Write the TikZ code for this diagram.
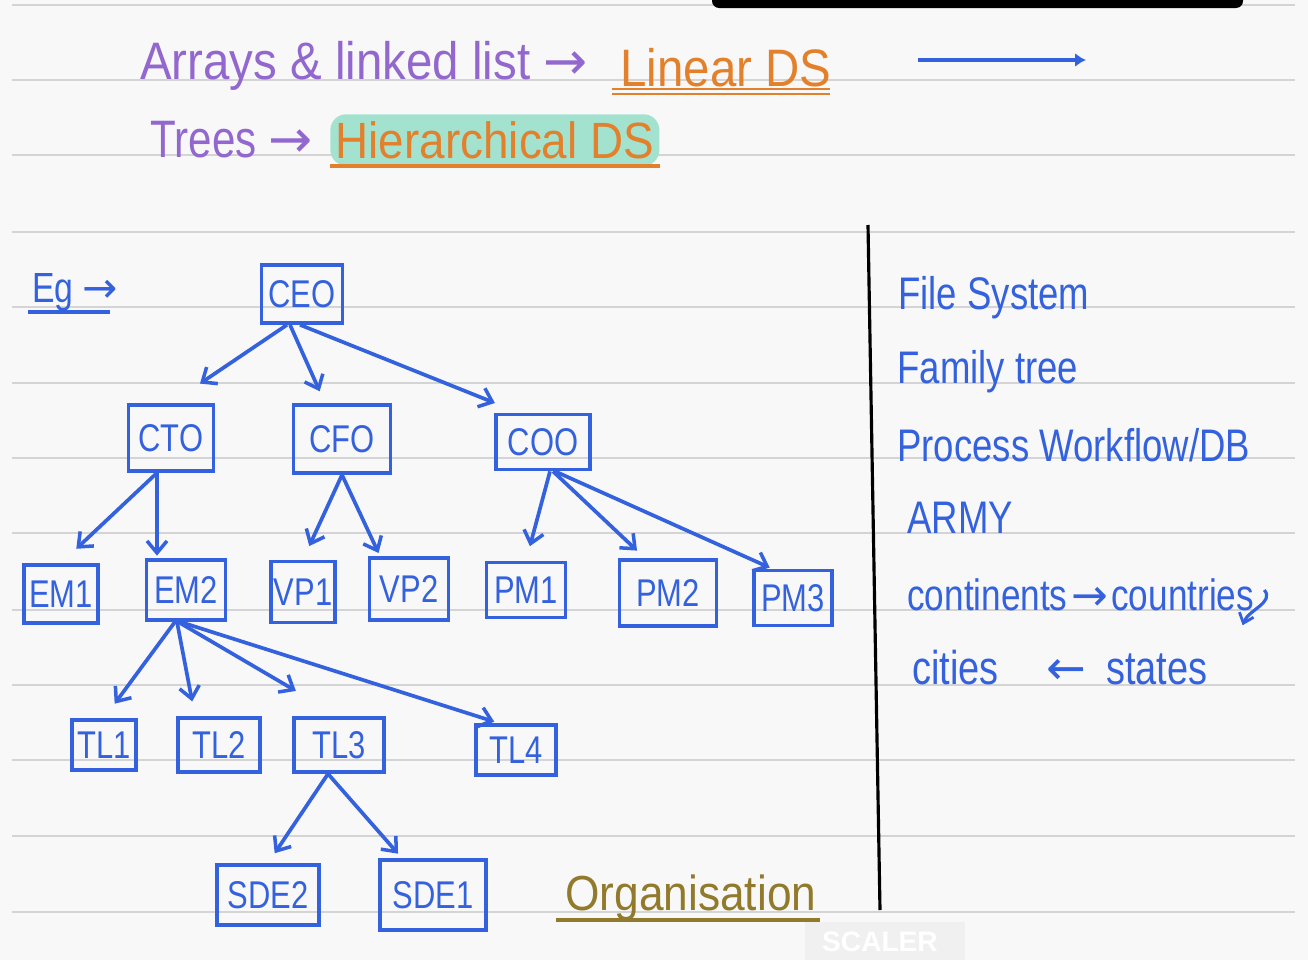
\documentclass[tikz,border=0pt]{standalone}
\usepackage{fontspec}
\setmainfont{Liberation Sans}
\newfontfamily\hand[FakeStretch=0.8]{Liberation Sans}
\newfontfamily\handwide[FakeStretch=0.9]{Liberation Sans}
\newfontfamily\symb{DejaVu Sans}
\usetikzlibrary{arrows.meta}

\definecolor{paper}{RGB}{248,248,248}
\definecolor{rule}{RGB}{212,212,212}
\definecolor{inkblue}{RGB}{52,98,222}
\definecolor{inkpurple}{RGB}{146,104,206}
\definecolor{inkorange}{RGB}{226,128,44}
\definecolor{inkolive}{RGB}{146,122,44}
\definecolor{hilite}{RGB}{164,226,208}

\begin{document}
\begin{tikzpicture}[
    x=0.02cm, y=-0.02cm,
    emp/.style={rectangle, draw=inkblue, line width=2.1pt, text=inkblue, inner sep=1pt, font=\hand\fontsize{22}{24}\selectfont},
    arr/.style={draw=inkblue, line width=2.1pt, -{Straight Barb[length=2.4mm, width=4mm, line width=2pt]}},
    title/.style={anchor=west, inner sep=0pt, font=\handwide\fontsize{30}{32}\selectfont},
    note/.style={anchor=west, inner sep=0pt, text=inkblue, font=\hand\fontsize{26}{28}\selectfont}
]

% Paper and ruled lines
\fill[paper] (0,0) rectangle (1308,960);
\useasboundingbox (0,0) rectangle (1308,960);
\foreach \y in {5,80,155,232,307,383,458,533,610,685,760,836,912}
  \draw[rule, line width=1.1pt] (12,\y) -- (1295,\y);

% Pen toolbar
\fill[black, rounded corners=4pt] (712,-10) rectangle (1243,8);

% Heading lines
\node[title, text=inkpurple] (arrays) at (140,66) {Arrays \& linked list {\symb →}};
\node[title, text=inkorange] (linear) at (620,68) {Linear DS};
\draw[inkorange, line width=1.3pt] (612,89) -- (830,89);
\draw[inkorange, line width=1.3pt] (612,94) -- (830,94);
\draw[inkblue, line width=2.6pt, -{Latex[length=2.2mm, width=2.8mm]}] (918,60) -- (1086,60);

\node[title, text=inkpurple, font=\hand\fontsize{30}{32}\selectfont] (trees) at (150,140) {Trees {\symb →}};
\node[title, text=inkorange, fill=hilite, rounded corners=9pt, inner xsep=3pt, inner ysep=4pt, font=\handwide\fontsize{29}{31}\selectfont] (hier) at (330,140) {Hierarchical DS};
\draw[inkorange, line width=2.2pt] (hier.south west) -- (hier.south east);

% Example label
\node[anchor=west, inner sep=0pt, text=inkblue, font=\hand\fontsize{24}{26}\selectfont] (eg) at (32,292) {Eg {\symb →}};
\draw[inkblue, line width=2pt] (28,312) -- (110,312);

% Organisation tree - top levels
\node[emp, minimum width=1.62cm, minimum height=1.16cm] (ceo) at (302,294) {CEO};
\node[emp, minimum width=1.70cm, minimum height=1.32cm] (cto) at (171,438) {CTO};
\node[emp, minimum width=1.94cm, minimum height=1.36cm] (cfo) at (342,439) {CFO};
\node[emp, minimum width=1.88cm, minimum height=1.10cm] (coo) at (543,442) {COO};

% Managers and VPs
\node[emp, minimum width=1.48cm, minimum height=1.16cm] (em1) at (61,594) {EM1};
\node[emp, minimum width=1.58cm, minimum height=1.20cm] (em2) at (186,590) {EM2};
\node[emp, minimum width=1.28cm, minimum height=1.22cm] (vp1) at (303,592) {VP1};
\node[emp, minimum width=1.58cm, minimum height=1.24cm] (vp2) at (409,589) {VP2};
\node[emp, minimum width=1.58cm, minimum height=1.10cm] (pm1) at (526,590) {PM1};
\node[emp, minimum width=1.94cm, minimum height=1.32cm] (pm2) at (668,593) {PM2};
\node[emp, minimum width=1.56cm, minimum height=1.10cm] (pm3) at (793,598) {PM3};

% Team leads
\node[emp, minimum width=1.28cm, minimum height=1.00cm] (tl1) at (104,745) {TL1};
\node[emp, minimum width=1.64cm, minimum height=1.08cm] (tl2) at (219,745) {TL2};
\node[emp, minimum width=1.80cm, minimum height=1.08cm] (tl3) at (339,745) {TL3};
\node[emp, minimum width=1.60cm, minimum height=1.00cm] (tl4) at (516,750) {TL4};

% Engineers
\node[emp, minimum width=2.04cm, minimum height=1.20cm] (sde2) at (268,895) {SDE2};
\node[emp, minimum width=2.12cm, minimum height=1.40cm] (sde1) at (433,895) {SDE1};

% Reporting lines
\draw[arr, shorten >=0.7cm] ([xshift=-0.3cm]ceo.south) -- (cto.north);
\draw[arr, shorten >=0.26cm] ([xshift=-0.24cm]ceo.south) -- ([xshift=-0.34cm]cfo.north);
\draw[arr, shorten >=0.52cm] ([xshift=-0.04cm]ceo.south) -- ([xshift=-0.48cm]coo.north);

\draw[arr, shorten >=0.42cm] ([xshift=-0.28cm]cto.south) -- (em1.north);
\draw[arr, shorten >=0.05cm] ([xshift=-0.28cm]cto.south) -- ([xshift=-0.58cm]em2.north);
\draw[arr, shorten >=0.3cm] (cfo.south) -- (vp1.north);
\draw[arr, shorten >=0.07cm] (cfo.south) -- ([xshift=-0.58cm]vp2.north);
\draw[arr, shorten >=0.3cm] ([xshift=0.14cm]coo.south) -- (pm1.north);
\draw[arr, shorten >=0.22cm] ([xshift=0.2cm]coo.south) -- ([xshift=-0.46cm]pm2.north);
\draw[arr, shorten >=0.05cm] ([xshift=0.24cm]coo.south) -- ([xshift=-0.42cm]pm3.north);

\draw[arr, shorten >=0.36cm] ([xshift=-0.22cm]em2.south) -- (tl1.north);
\draw[arr, shorten >=0.3cm] ([xshift=-0.18cm]em2.south) -- ([xshift=-0.48cm]tl2.north);
\draw[arr, shorten >=1cm] ([xshift=-0.16cm]em2.south) -- (tl3.north);
\draw[arr, shorten >=0.1cm] ([xshift=-0.12cm]em2.south) -- ([xshift=-0.34cm]tl4.north);

\draw[arr, shorten >=0.24cm] ([xshift=-0.22cm]tl3.south) -- (sde2.north);
\draw[arr, shorten >=0.12cm] ([xshift=-0.22cm]tl3.south) -- ([xshift=-0.62cm]sde1.north);

% Caption
\node[anchor=west, inner sep=0pt, text=inkolive, font=\handwide\fontsize{28}{30}\selectfont] (org) at (565,898) {Organisation};
\draw[inkolive, line width=2.2pt] (556,920) -- (820,920);

% Divider
\draw[black, line width=1.8pt] (868,225) -- (880,910);

% Other examples
\node[note] (files) at (898,298) {File System};
\node[note] (family) at (897,372) {Family tree};
\node[note] (process) at (897,445) {Process Workflow/DB};
\node[note] (army) at (907,518) {ARMY};
\node[note, font=\hand\fontsize{25}{27}\selectfont] (cont) at (907,595) {continents\hspace{2pt}{\symb →}\hspace{2pt}countries};
\node[note, font=\hand\fontsize{27}{29}\selectfont] (cities) at (912,668) {cities\hspace{0.95cm}{\symb ←}\hspace{0.4cm}states};
\draw[inkblue, line width=1.8pt, -{Straight Barb[length=1.8mm, width=3mm, line width=1.6pt]}] ([xshift=0.2cm, yshift=0.1cm]cont.east) to[out=-50, in=70] ([xshift=0.7cm, yshift=0.5cm]cities.north east);

% Watermark
\fill[gray!12] (805,922) rectangle (965,960);
\node[text=white, font=\bfseries\fontsize{16}{18}\selectfont, inner sep=0pt] (wm) at (880,942) {SCALER};

\end{tikzpicture}
\end{document}
